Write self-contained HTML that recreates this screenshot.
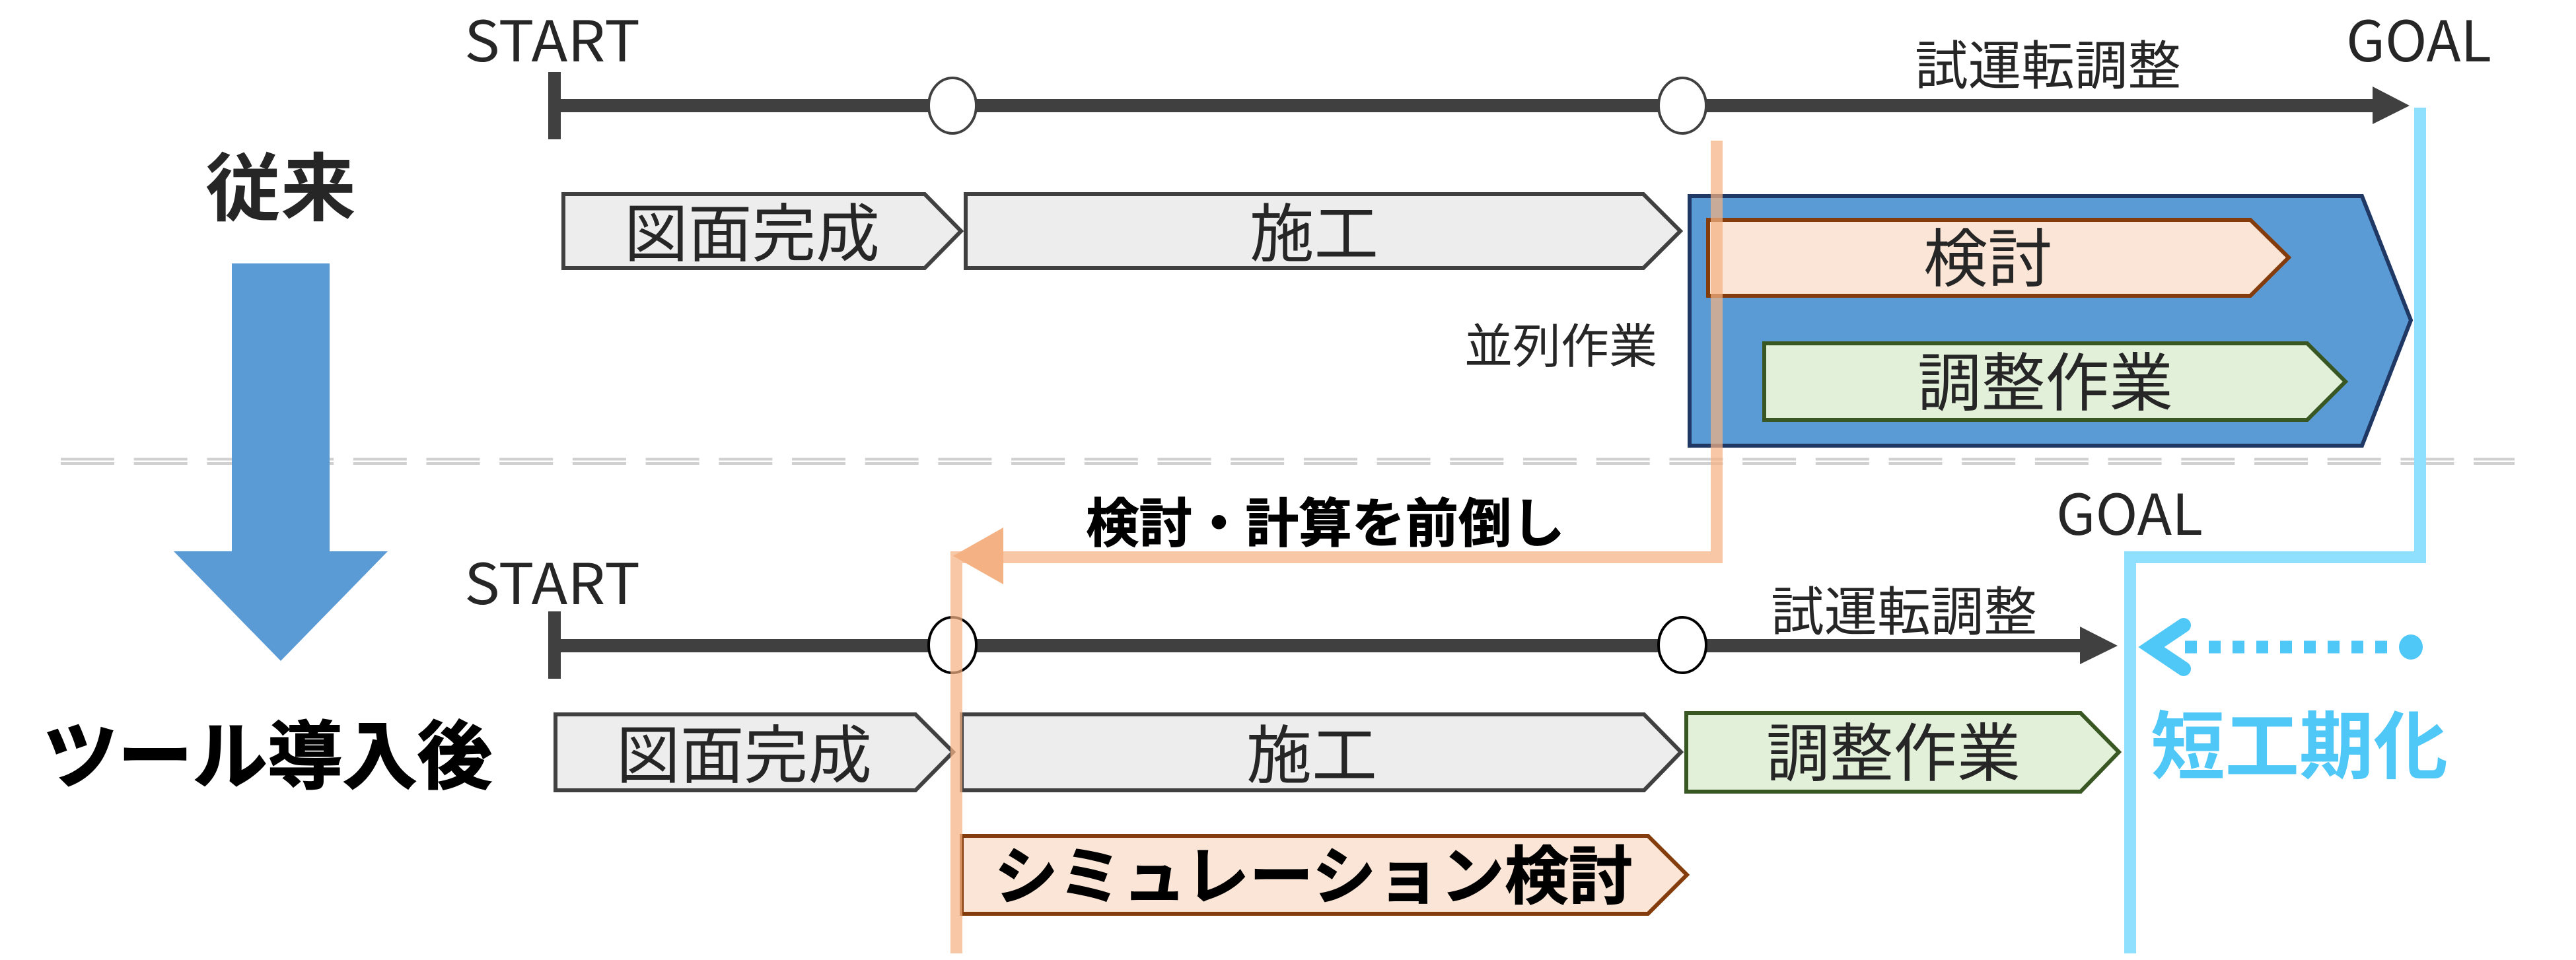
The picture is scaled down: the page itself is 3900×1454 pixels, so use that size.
<!DOCTYPE html>
<html lang="ja"><head><meta charset="utf-8"><title>diagram</title>
<style>
html,body{margin:0;padding:0;background:#fff;width:3900px;height:1454px;overflow:hidden}
svg{display:block}
text{font-family:"Liberation Sans","Noto Sans CJK JP",sans-serif}
.j{font-family:"Noto Sans CJK JP","Liberation Sans",sans-serif;fill:#262626}
.l{font-family:"Noto Sans CJK JP","Liberation Sans",sans-serif;fill:#262626;font-weight:400}
.b{font-family:"Noto Sans CJK JP","Liberation Sans",sans-serif;font-weight:700;fill:#000}
</style></head><body>
<svg width="3900" height="1454" viewBox="0 0 3900 1454" xmlns="http://www.w3.org/2000/svg">
<!-- dashed divider -->
<g stroke="#d0d0d0" stroke-width="4" stroke-dasharray="81 29.7" fill="none">
<path d="M92 695.5H3807"/><path d="M92 702H3807"/>
</g>

<!-- big down arrow -->
<polygon points="351,399 499,399 499,835 587,835 425,1001 263,835 351,835" fill="#5b9bd5"/>

<!-- top timeline -->
<rect x="830" y="109" width="19" height="102" fill="#404040"/>
<rect x="840" y="150" width="2760" height="20" fill="#404040"/>
<polygon points="3592,131 3648,160 3592,188" fill="#404040"/>
<ellipse cx="1442" cy="160" rx="36" ry="42" fill="#fff" stroke="#404040" stroke-width="4"/>
<ellipse cx="2547" cy="160" rx="36" ry="42" fill="#fff" stroke="#404040" stroke-width="4"/>

<!-- top chevrons -->
<g stroke-width="6" stroke-linejoin="miter">
<polygon points="853,294 1400,294 1455,350 1400,406 853,406" fill="#ededed" stroke="#404040"/>
<polygon points="1462,294 2488,294 2544,350 2488,406 1462,406" fill="#ededed" stroke="#404040"/>
<polygon points="2558,297 3576,297 3650,485 3576,675 2558,675" fill="#5b9bd5" stroke="#1f3864"/>
<polygon points="2586,333 3407,333 3465,390 3407,448 2586,448" fill="#fbe5d6" stroke="#843c0c"/>
<polygon points="2671,520 3493,520 3551,578 3493,636 2671,636" fill="#e2f0d9" stroke="#385723"/>
</g>

<!-- bottom timeline -->
<rect x="830" y="926" width="19" height="102" fill="#404040"/>
<rect x="840" y="968" width="2312" height="20" fill="#404040"/>
<polygon points="3149,949 3206,978 3149,1006" fill="#404040"/>
<ellipse cx="1442" cy="977" rx="36" ry="42" fill="#fff" stroke="#000" stroke-width="4"/>
<ellipse cx="2547" cy="977" rx="36" ry="42" fill="#fff" stroke="#000" stroke-width="4"/>

<!-- bottom chevrons -->
<g stroke-width="6">
<polygon points="841,1082 1386,1082 1443,1139 1386,1197 841,1197" fill="#ededed" stroke="#404040"/>
<polygon points="1456,1082 2489,1082 2545,1139 2489,1197 1456,1197" fill="#ededed" stroke="#404040"/>
<polygon points="2553,1080 3150,1080 3208,1139 3150,1199 2553,1199" fill="#e2f0d9" stroke="#385723"/>
<polygon points="1456,1266 2495,1266 2554,1325 2495,1384 1456,1384" fill="#fbe5d6" stroke="#843c0c"/>
</g>

<!-- labels -->
<text class="l" x="703" y="93" font-size="85" textLength="266" lengthAdjust="spacingAndGlyphs">START</text>
<text class="l" x="703" y="915" font-size="85" textLength="266" lengthAdjust="spacingAndGlyphs">START</text>
<text class="l" x="3552" y="93" font-size="85" textLength="220" lengthAdjust="spacingAndGlyphs">GOAL</text>
<text class="l" x="3113" y="810" font-size="85" textLength="222" lengthAdjust="spacingAndGlyphs">GOAL</text>
<text class="j" x="2899" y="128" font-size="80" textLength="403" lengthAdjust="spacingAndGlyphs">試運転調整</text>
<text class="j" x="2681" y="955" font-size="80" textLength="403" lengthAdjust="spacingAndGlyphs">試運転調整</text>
<text class="j" x="945" y="388" font-size="96" textLength="387" lengthAdjust="spacingAndGlyphs">図面完成</text>
<text class="j" x="1892" y="388" font-size="96" textLength="195" lengthAdjust="spacingAndGlyphs">施工</text>
<text class="j" x="2912" y="426" font-size="96" textLength="195" lengthAdjust="spacingAndGlyphs">検討</text>
<text class="j" x="2903" y="614" font-size="96" textLength="387" lengthAdjust="spacingAndGlyphs">調整作業</text>
<text class="j" x="2217" y="550" font-size="72" textLength="292" lengthAdjust="spacingAndGlyphs">並列作業</text>
<text class="j" x="933" y="1178" font-size="96" textLength="387" lengthAdjust="spacingAndGlyphs">図面完成</text>
<text class="j" x="1887" y="1178" font-size="96" textLength="198" lengthAdjust="spacingAndGlyphs">施工</text>
<text class="j" x="2674" y="1175" font-size="96" textLength="385" lengthAdjust="spacingAndGlyphs">調整作業</text>

<text class="j" x="311" y="325" font-size="112" font-weight="700" textLength="228" lengthAdjust="spacingAndGlyphs">従来</text>
<text class="b" x="65" y="1185" font-size="112" font-weight="900" stroke="#000" stroke-width="2" textLength="680" lengthAdjust="spacingAndGlyphs">ツール導入後</text>
<text class="b" x="1644" y="821" font-size="80" stroke="#000" stroke-width="1" textLength="725" lengthAdjust="spacingAndGlyphs">検討・計算を前倒し</text>
<text class="b" x="1505" y="1361" font-size="96" stroke="#000" stroke-width="1" textLength="967" lengthAdjust="spacingAndGlyphs">シミュレーション検討</text>
<text x="3256" y="1170" font-size="112" textLength="450" lengthAdjust="spacingAndGlyphs" style="font-family:'Noto Sans CJK JP',sans-serif;font-weight:700;fill:#4fc7f7">短工期化</text>

<!-- orange route -->
<path d="M2599 213V844H1448V1444" fill="none" stroke="#f4b183" stroke-opacity=".72" stroke-width="18"/>
<polygon points="1443,842 1519,799 1519,885" fill="#f4b183"/>

<!-- cyan route -->
<path d="M3664 163V844H3225V1444" fill="none" stroke="#8fe0ff" stroke-width="18"/>

<!-- dotted arrow -->
<path d="M3614 980H3300" fill="none" stroke="#4fc7f7" stroke-width="19" stroke-dasharray="18 18"/>
<ellipse cx="3650" cy="980" rx="18" ry="19" fill="#4fc7f7"/>
<path d="M3306 947L3257 980L3306 1013" fill="none" stroke="#4fc7f7" stroke-width="22" stroke-linecap="round" stroke-linejoin="miter"/>
</svg>
</body></html>
